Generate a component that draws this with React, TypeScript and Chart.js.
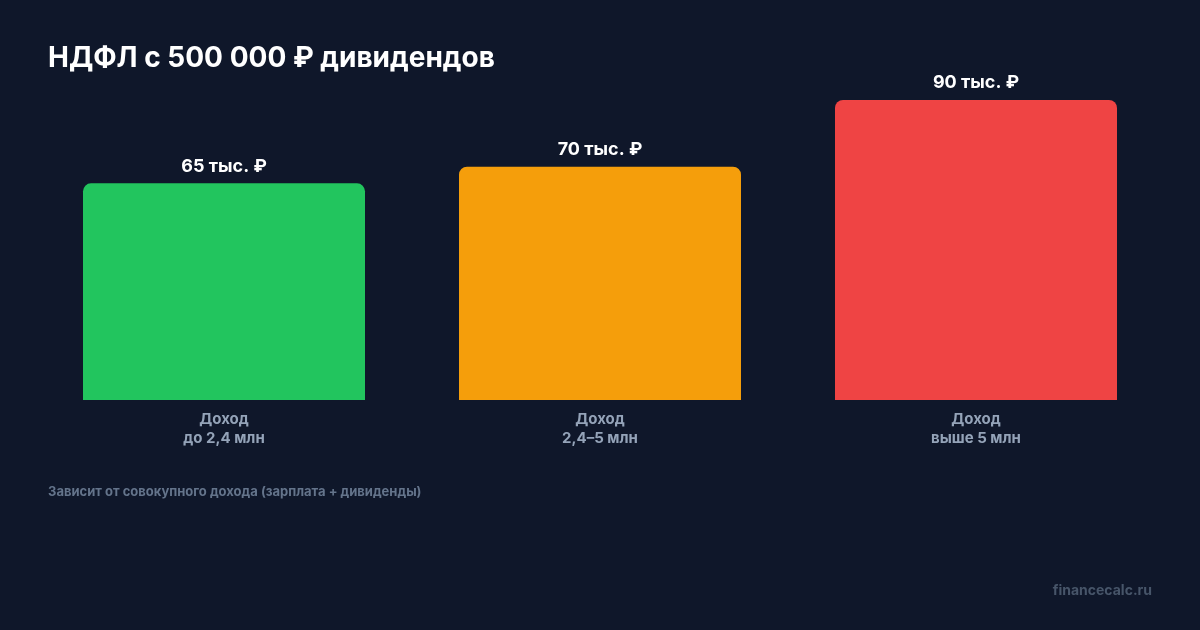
import React, { useEffect, useRef } from "react";
import { Chart, registerables } from "chart.js";

Chart.register(...registerables);

const categories: string[][] = [
  ["Доход", "до 2,4 млн"],
  ["Доход", "2,4–5 млн"],
  ["Доход", "выше 5 млн"],
];
const taxValues: number[] = [65, 70, 90];
const valueLabels: string[] = ["65 тыс. ₽", "70 тыс. ₽", "90 тыс. ₽"];
const barColors: string[] = ["#22c55e", "#f59e0b", "#ef4444"];

const FONT = "Inter, 'DejaVu Sans', sans-serif";

const valueLabelPlugin = {
  id: "valueLabels",
  afterDatasetsDraw(chart: any) {
    const ctx = chart.ctx;
    const meta = chart.getDatasetMeta(0);
    ctx.save();
    ctx.font = `700 18px ${FONT}`;
    ctx.fillStyle = "#ffffff";
    ctx.textAlign = "center";
    ctx.textBaseline = "middle";
    meta.data.forEach((bar: any, i: number) => {
      ctx.fillText(valueLabels[i], bar.x, bar.y - 17);
    });
    ctx.restore();
  },
};

export default function App() {
  const ref = useRef<HTMLCanvasElement | null>(null);
  useEffect(() => {
    document.body.style.margin = "0";
    document.body.style.background = "#0f172a";
    const chart = new Chart(ref.current as HTMLCanvasElement, {
      type: "bar",
      data: {
        labels: categories,
        datasets: [
          {
            data: taxValues,
            backgroundColor: barColors,
            borderRadius: 8,
            borderSkipped: "bottom",
            categoryPercentage: 0.75,
            barPercentage: 1,
          },
        ],
      },
      options: {
        animation: false,
        responsive: false,
        maintainAspectRatio: false,
        devicePixelRatio: 1,
        layout: { padding: { left: 36, right: 36, top: 100, bottom: 172.5 } },
        plugins: { legend: { display: false }, tooltip: { enabled: false } },
        scales: {
          y: { display: false, min: 0, max: 90 },
          x: {
            grid: { display: false, drawTicks: false },
            border: { display: false },
            ticks: {
              color: "#94a3b8",
              padding: 10,
              font: { family: FONT, size: 15, weight: "bold", lineHeight: 1.25 },
            },
          },
        },
      },
      plugins: [valueLabelPlugin],
    });
    return () => chart.destroy();
  }, []);

  return (
    <div
      style={{
        position: "fixed",
        left: 0,
        top: 0,
        width: 1200,
        height: 630,
        background: "#0f172a",
        overflow: "hidden",
        fontFamily: FONT,
      }}
    >
      <canvas ref={ref} width={1200} height={630} style={{ position: "absolute", left: 0, top: 0 }} />
      <div
        style={{
          position: "absolute",
          left: 48,
          top: 43,
          fontSize: 28,
          lineHeight: "28px",
          fontWeight: 700,
          color: "#ffffff",
          whiteSpace: "nowrap",
        }}
      >
        НДФЛ с 500 000 ₽ дивидендов
      </div>
      <div
        style={{
          position: "absolute",
          left: 48,
          top: 484,
          fontSize: 13,
          lineHeight: "14px",
          fontWeight: 700,
          color: "#64748b",
          whiteSpace: "nowrap",
        }}
      >
        Зависит от совокупного дохода (зарплата + дивиденды)
      </div>
      <div
        style={{
          position: "absolute",
          right: 48,
          top: 583,
          fontSize: 14,
          lineHeight: "14px",
          fontWeight: 700,
          color: "#475569",
          whiteSpace: "nowrap",
        }}
      >
        financecalc.ru
      </div>
    </div>
  );
}
